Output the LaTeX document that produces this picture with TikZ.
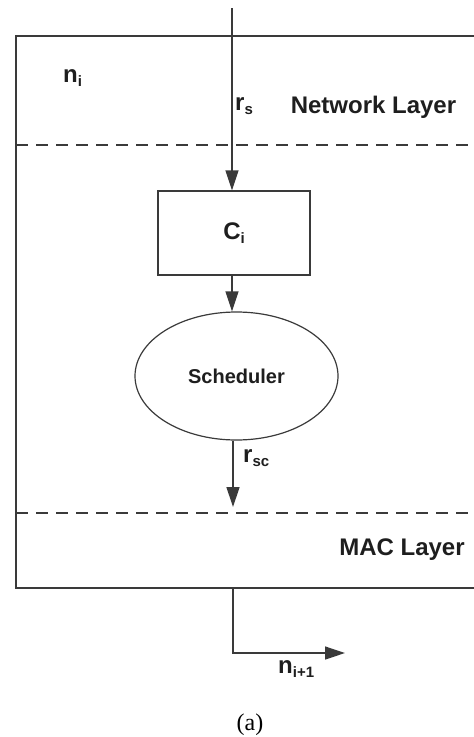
\documentclass[tikz,border=0pt]{standalone}
\usepackage{fontspec}
\setmainfont{Liberation Sans}
\newfontfamily\capfont{Liberation Serif}
\usetikzlibrary{arrows.meta,shapes.geometric}
\definecolor{linegray}{HTML}{3A3A3A}
\definecolor{inkgray}{HTML}{1E1E1E}
% lowered, smaller index used in the labels
\newcommand\lowidx[1]{\raisebox{-0.32ex}{\fontsize{15}{15}\selectfont #1}}
\tikzset{
  frame/.style={draw=linegray, line width=1.3pt},
  layerline/.style={draw=linegray, line width=1.2pt, dash pattern=on 12pt off 8pt},
  flow/.style={draw=linegray, line width=1.3pt, -{Triangle[length=20pt,width=13pt]}},
  blockbox/.style={draw=linegray, line width=1.2pt, rectangle, minimum width=152pt, minimum height=84pt},
  schedshape/.style={draw=linegray, line width=1.2pt, ellipse, minimum width=203pt, minimum height=128pt, inner sep=0pt},
  lbl/.style={text=inkgray, font=\bfseries\fontsize{24}{28}\selectfont, inner sep=0pt},
}
\begin{document}
\begin{tikzpicture}[x=1pt, y=-1pt]
\useasboundingbox (0,0) rectangle (474,737);

% node boundary (open on the right side) and the two layer separators
\draw[frame] (474,36) -- (16,36) -- (16,588) -- (474,588);
\draw[layerline] (16,145) -- (474,145);
\draw[layerline] (16,513) -- (474,513);

% blocks
\node[blockbox] (ci) at (234,233) {};
\node[lbl] (cilbl) at (ci.center) {C\lowidx{i}};
\node[schedshape] (sch) at (236.5,376) {};
\node[lbl, font=\bfseries\fontsize{20}{24}\selectfont] (schlbl) at (sch.center) {Scheduler};

% flow coordinates
\coordinate (in) at (232,8);
\coordinate (macin) at (233,507);
\coordinate (outtop) at (233,588);
\coordinate (outend) at (345,653);

\draw[flow] (in) -- (in |- ci.north);
\draw[flow] (ci.south -| in) -- (sch.north -| in);
\draw[flow] (sch.south -| macin) -- (macin);
\draw[flow] (outtop) |- (outend);

% labels
\node[lbl, anchor=base west] (ni) at (63,82) {n\lowidx{i}};
\node[lbl, anchor=base west] (rs) at (235,110) {r\lowidx{s}};
\node[lbl, anchor=base] (net) at (373.5,113) {Network Layer};
\node[lbl, anchor=base west] (rsc) at (243,462) {r\lowidx{sc}};
\node[lbl, anchor=base] (mac) at (402,555) {MAC Layer};
\node[lbl, anchor=base west] (nnext) at (278,673) {n\lowidx{i+1}};
\node[text=black, inner sep=0pt, font=\capfont\fontsize{24}{28}\selectfont] (cap) at (250,725) {(a)};
\end{tikzpicture}
\end{document}
